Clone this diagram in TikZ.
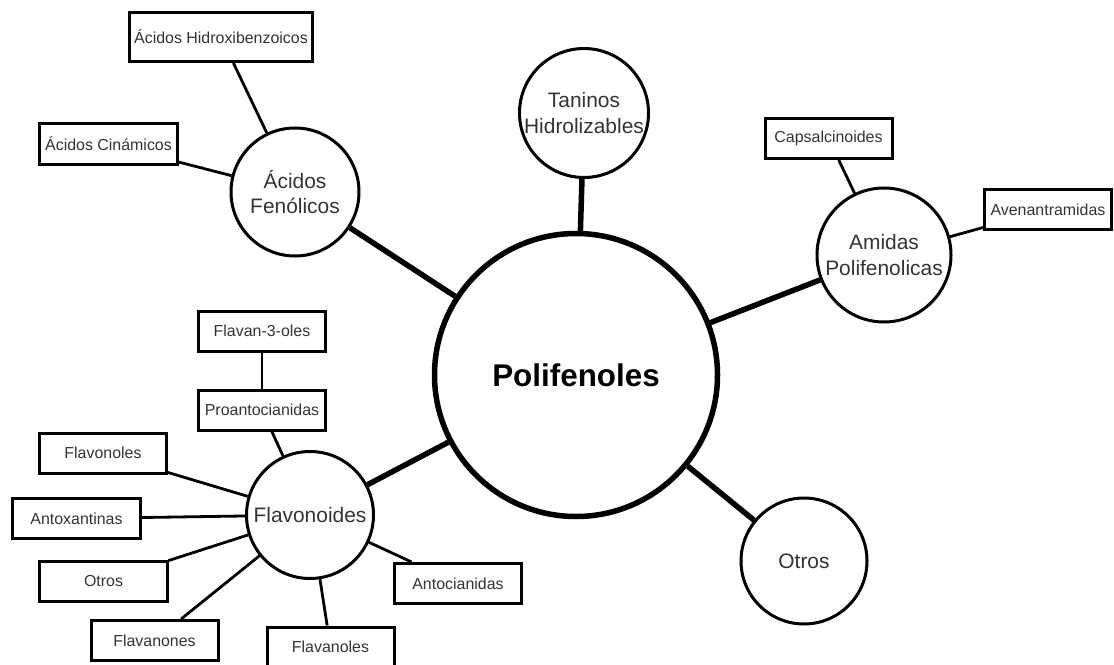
\documentclass[tikz,border=0pt]{standalone}
\usepackage{fontspec}
\setmainfont{Liberation Sans}
\definecolor{txt}{HTML}{333333}
\begin{document}
\begin{tikzpicture}[x=1bp, y=-1bp,
            hoja/.style={draw, rectangle, line width=3bp, minimum width=127bp, minimum height=40bp, inner sep=0pt, text=txt, font=\fontsize{16}{19}\selectfont},
            grupo/.style={draw, circle, line width=3bp, minimum size=127bp, inner sep=0pt},
            rotulo/.style={align=center, inner sep=0pt, text=txt, font=\fontsize{21}{26}\selectfont},
            rama/.style={line width=2.8bp},
            tronco/.style={line width=5.5bp}]
            \useasboundingbox (0,0) rectangle (1114,665);
            % centro
            \node[draw, circle, line width=5.5bp, minimum size=283bp, inner sep=0pt, font=\fontsize{31.5}{36}\selectfont\bfseries] (poli) at (576,375) {Polifenoles};
            % grupos
            \node[grupo, minimum size=128bp, label={[rotulo]center:Ácidos\\Fenólicos}] (acidos) at (295,192) {};
            \node[grupo, minimum size=129bp, label={[rotulo]center:Taninos\\Hidrolizables}] (taninos) at (584,113) {};
            \node[grupo, minimum size=134bp, label={[rotulo]center:Amidas\\Polifenolicas}] (amidas) at (884,255) {};
            \node[grupo, minimum size=126bp, label={[rotulo]center:Otros}] (otros) at (804,561) {};
            \node[grupo, minimum size=127bp, label={[rotulo]center:Flavonoides}] (flavo) at (310,515) {};
            % hojas
            \node[hoja, minimum width=183bp, minimum height=49bp] (hidroxi) at (221,37) {Ácidos Hidroxibenzoicos};
            \node[hoja, minimum width=138bp, minimum height=41bp] (cinam) at (108.5,144) {Ácidos Cinámicos};
            \node[hoja] (capsa) at (828.5,138.5) {Capsalcinoides};
            \node[hoja] (avena) at (1048,209.5) {Avenantramidas};
            \node[hoja] (flavan) at (262,331) {Flavan-3-oles};
            \node[hoja] (proanto) at (262,410) {Proantocianidas};
            \node[hoja] (flavonoles) at (103,453) {Flavonoles};
            \node[hoja] (antox) at (76.5,518.5) {Antoxantinas};
            \node[hoja] (otrosf) at (103.5,581.5) {Otros};
            \node[hoja] (flavanones) at (154.5,640.5) {Flavanones};
            \node[hoja] (flavanoles) at (330.5,647) {Flavanoles};
            \node[hoja] (antoci) at (458,583.5) {Antocianidas};
            % conexiones
            \draw[tronco] (acidos) -- (poli);
            \draw[tronco] (taninos) -- (poli);
            \draw[tronco] (amidas) -- (poli);
            \draw[tronco] (otros) -- (poli);
            \draw[tronco] (flavo) -- (poli);
            \draw[rama] (hidroxi) -- (acidos);
            \draw[rama] (cinam) -- (acidos);
            \draw[rama] (capsa) -- (amidas);
            \draw[rama] (avena) -- (amidas);
            \draw[rama] (flavan) -- (proanto);
            \draw[rama] (proanto) -- (flavo);
            \draw[rama] (flavonoles) -- (flavo);
            \draw[rama] (antox) -- (flavo);
            \draw[rama] (otrosf) -- (flavo);
            \draw[rama] (flavanones) -- (flavo);
            \draw[rama] (flavanoles) -- (flavo);
            \draw[rama] (antoci) -- (flavo);
        \end{tikzpicture}
\end{document}
